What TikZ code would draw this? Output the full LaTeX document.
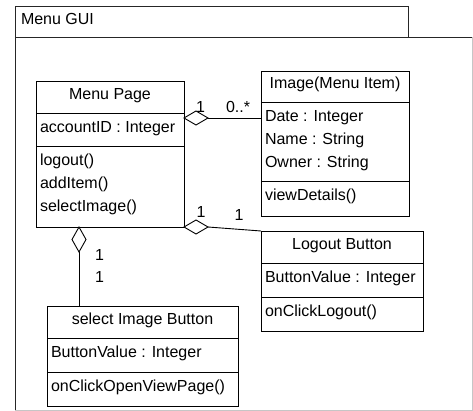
\documentclass[tikz,border=0pt]{standalone}
\usepackage{fontspec}
\setmainfont{Liberation Sans}
\usetikzlibrary{shapes.geometric,shadows,calc}

\begin{document}
\begin{tikzpicture}[x=1pt,y=-1pt,
  every node/.style={font=\fontsize{16}{18}\selectfont, inner sep=0pt, outer sep=0pt},
  classbox/.style={draw=black, fill=white, line width=0.9pt, anchor=north west,
    drop shadow={shadow xshift=1.3pt, shadow yshift=-1.3pt, opacity=0.35, fill=black}},
  divider/.style={draw=black, line width=0.9pt},
  txt/.style={anchor=base west},
  ttl/.style={anchor=base},
  mult/.style={anchor=base},
  agg/.style={shape=diamond, draw=black, fill=white, line width=0.9pt, inner sep=0pt},
  conn/.style={draw=black, line width=0.9pt}]

\useasboundingbox (0,0) rectangle (473,411);

% package frame with its name tab
\node[draw=gray!45, line width=0.9pt, anchor=north west, minimum width=457pt, minimum height=373pt] (pkg) at (15,37) {};
\draw[black!85, line width=0.9pt] (pkg.south west) -- (pkg.north west) -- (pkg.north east);
\node[draw=black!85, fill=white, line width=0.9pt, anchor=north west, minimum width=393pt, minimum height=31pt] (tab) at (15,6) {};
\node[txt] (tabname) at (21,24.3) {Menu GUI};

% Menu Page
\node[classbox, minimum width=148pt, minimum height=146pt] (menu) at (36,81) {};
\draw[divider] ($(menu.north west)+(0,32)$) -- ($(menu.north east)+(0,32)$);
\draw[divider] ($(menu.north west)+(0,65)$) -- ($(menu.north east)+(0,65)$);
\node[ttl] (menuT) at (110,99.3) {Menu Page};
\node[txt] (menuA1) at (40,132.5) {accountID : Integer};
\node[txt] (menuO1) at (40,166) {logout()};
\node[txt] (menuO2) at (40,188.7) {addItem()};
\node[txt] (menuO3) at (40,211.3) {selectImage()};

% Image(Menu Item)
\node[classbox, minimum width=148pt, minimum height=145pt] (img) at (261,71) {};
\draw[divider] ($(img.north west)+(0,31.3)$) -- ($(img.north east)+(0,31.3)$);
\draw[divider] ($(img.north west)+(0,110.7)$) -- ($(img.north east)+(0,110.7)$);
\node[ttl] (imgT) at (335,89) {Image(Menu Item)};
\node[txt] (imgA1) at (265,121.7) {Date : Integer};
\node[txt] (imgA2) at (265,144.5) {Name : String};
\node[txt] (imgA3) at (265,167.3) {Owner : String};
\node[txt] (imgO1) at (265,200.7) {viewDetails()};

% Logout Button
\node[classbox, minimum width=162pt, minimum height=100pt] (logout) at (261,231) {};
\draw[divider] ($(logout.north west)+(0,32)$) -- ($(logout.north east)+(0,32)$);
\draw[divider] ($(logout.north west)+(0,66)$) -- ($(logout.north east)+(0,66)$);
\node[ttl] (logoutT) at (342,249.3) {Logout Button};
\node[txt] (logoutA1) at (265,282.7) {ButtonValue : Integer};
\node[txt] (logoutO1) at (265,316) {onClickLogout()};

% select Image Button
\node[classbox, minimum width=191pt, minimum height=100pt] (sel) at (47,306) {};
\draw[divider] ($(sel.north west)+(0,32)$) -- ($(sel.north east)+(0,32)$);
\draw[divider] ($(sel.north west)+(0,66)$) -- ($(sel.north east)+(0,66)$);
\node[ttl] (selT) at (142.5,324.3) {select Image Button};
\node[txt] (selA1) at (51,357.3) {ButtonValue : Integer};
\node[txt] (selO1) at (51,391) {onClickOpenViewPage()};

% aggregations
\node[agg, minimum width=24pt, minimum height=14pt] (dimg) at (196,118) {};
\draw[conn] (dimg.east) -- (dimg.east -| img.west);
\node[mult] (mimg1) at (200.5,113) {1};
\node[txt] (mimg2) at (226,113) {0..*};

\node[agg, minimum width=24pt, minimum height=14pt] (dlog) at (196,227) {};
\draw[conn] (dlog.east) -- (logout.north west);
\node[mult] (mlog1) at (201,218) {1};
\node[mult] (mlog2) at (239,220.7) {1};

\node[agg, minimum width=14pt, minimum height=25pt] (dsel) at (79,239.5) {};
\draw[conn] (dsel.south) -- (dsel.south |- sel.north);
\node[mult] (msel1) at (99.5,261) {1};
\node[mult] (msel2) at (99.5,282.3) {1};

\end{tikzpicture}
\end{document}
